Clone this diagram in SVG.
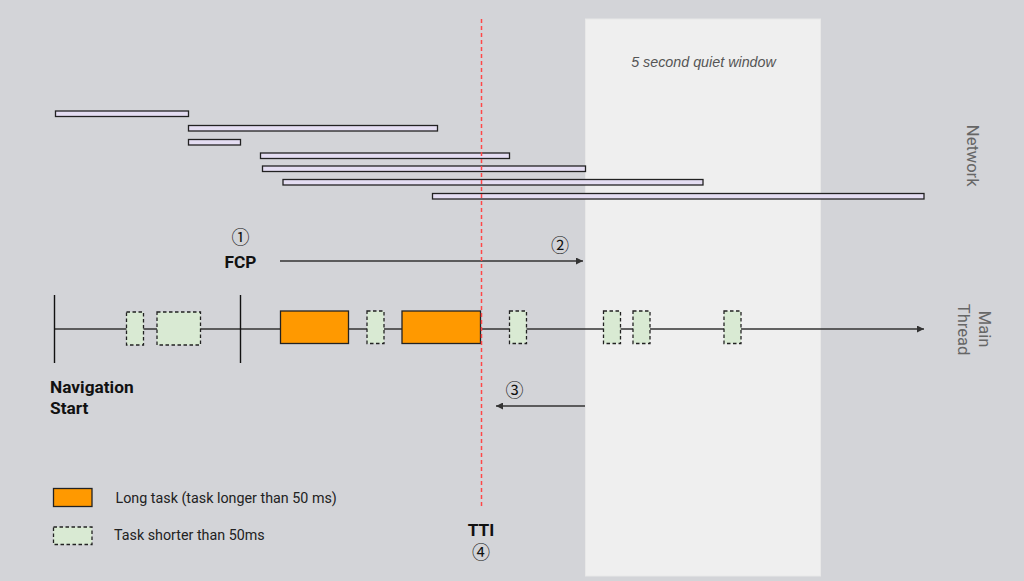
<svg xmlns="http://www.w3.org/2000/svg" width="1024" height="581" viewBox="0 0 1024 581">
<defs>
<style>
.bar{fill:#e4ddf2;stroke:#222;stroke-width:1.3}
.long{fill:#ff9900;stroke:#222;stroke-width:1.3}
.short{fill:#d9ead3;stroke:#222;stroke-width:1.3;stroke-dasharray:3.5 2.5}
.ln{stroke:#333;stroke-width:1.3;fill:none}
.tick{stroke:#111;stroke-width:1.4}
.bold{font-family:Roboto,"Liberation Sans",sans-serif;font-weight:bold;font-size:17.3px;fill:#111}
.num{font-family:"Noto Sans CJK JP","DejaVu Sans",sans-serif;font-size:18px;fill:#111;text-anchor:middle}
.side{font-family:Roboto,"Liberation Sans",sans-serif;font-size:16.5px;fill:#666;text-anchor:middle}
.leg{font-family:Roboto,"Liberation Sans",sans-serif;font-size:14.3px;fill:#222}
</style>
<marker id="ah" viewBox="0 0 10 10" refX="10" refY="5" markerWidth="9" markerHeight="7" markerUnits="userSpaceOnUse" orient="auto"><path d="M0,0L10,5L0,10z" fill="#333"/></marker>
</defs>
<rect width="1024" height="581" fill="#d3d4d8"/>
<g id="quiet-window">
<rect x="585.5" y="19" width="235" height="557" fill="#efefef" stroke="#e8e8e8" stroke-width="1"/>
<text x="703.5" y="66.5" text-anchor="middle" font-family="'Liberation Sans',Arial,sans-serif" font-style="italic" font-size="14.3px" fill="#555">5 second quiet window</text>
</g>
<g id="network">
<rect class="bar" x="55.5" y="111" width="133" height="5.5"/>
<rect class="bar" x="188.5" y="125.5" width="249" height="5.5"/>
<rect class="bar" x="188.5" y="139.5" width="52" height="5.5"/>
<rect class="bar" x="260.5" y="153" width="249" height="5.5"/>
<rect class="bar" x="262.5" y="166" width="323" height="5.5"/>
<rect class="bar" x="283" y="179.5" width="420" height="5.5"/>
<rect class="bar" x="432.5" y="193.5" width="491.5" height="5.5"/>
<text class="side" transform="translate(967,155.7) rotate(90)">Network</text>
</g>
<g id="connectors">
<line class="ln" x1="54" y1="329" x2="924" y2="329" marker-end="url(#ah)"/>
<line class="ln" x1="280" y1="261" x2="583" y2="261" marker-end="url(#ah)" stroke="#444"/>
<line class="ln" x1="585" y1="406" x2="496" y2="406" marker-end="url(#ah)" stroke="#444"/>
<line class="tick" x1="54.5" y1="295" x2="54.5" y2="363"/>
<line class="tick" x1="240.5" y1="295" x2="240.5" y2="363"/>
</g>
<g id="main-thread-tasks">
<rect class="short" x="126.5" y="312" width="17" height="33"/>
<rect class="short" x="157" y="312" width="43.5" height="33"/>
<rect class="long" x="280.5" y="311" width="68" height="32.5"/>
<rect class="short" x="367" y="311" width="17" height="32.5"/>
<rect class="long" x="402" y="311" width="78.5" height="32.5"/>
<rect class="short" x="509.5" y="311" width="17" height="32.5"/>
<rect class="short" x="603.5" y="311" width="17" height="32.5"/>
<rect class="short" x="633" y="311" width="17" height="32.5"/>
<rect class="short" x="724" y="311" width="17" height="32.5"/>
</g>
<g id="main-thread-label">
<text class="side" transform="translate(978.5,329) rotate(90)">Main</text>
<text class="side" transform="translate(957.5,329.5) rotate(90)">Thread</text>
</g>
<g id="tti-line">
<line x1="481.5" y1="19" x2="481.5" y2="507" stroke="#ff4747" stroke-width="1.5" stroke-dasharray="4 3"/>
</g>
<g id="navigation-start">
<text class="bold" x="50" y="393">Navigation</text>
<text class="bold" x="50" y="413.5">Start</text>
</g>
<g id="fcp">
<text class="num" x="240.5" y="243.5">①</text>
<text class="bold" x="240.5" y="268" text-anchor="middle">FCP</text>
</g>
<g id="step2"><text class="num" x="560" y="251.5">②</text></g>
<g id="step3"><text class="num" x="514.5" y="396.5">③</text></g>
<g id="tti">
<text class="bold" x="481" y="535.5" text-anchor="middle">TTI</text>
<text class="num" x="481" y="559" font-size="17.5px">④</text>
</g>
<g id="legend">
<rect class="long" x="53.5" y="488.5" width="38.5" height="18"/>
<text class="leg" x="115.5" y="502.5">Long task (task longer than 50 ms)</text>
<rect class="short" x="53.5" y="527" width="38.5" height="17.5"/>
<text class="leg" x="114" y="540">Task shorter than 50ms</text>
</g>
</svg>
